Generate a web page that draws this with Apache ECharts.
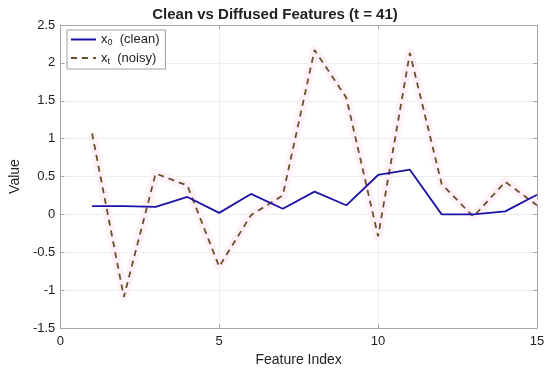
<!DOCTYPE html>
<html><head><meta charset="utf-8">
<script src="https://cdn.jsdelivr.net/npm/echarts@6/dist/echarts.min.js"></script>
<style>html,body{margin:0;padding:0;background:#fff}#c{width:550px;height:372px}</style>
</head><body><div id="c"></div>
<script>
const featureIndex = [1,2,3,4,5,6,7,8,9,10,11,12,13,14,15];
const cleanValues = [0.11,0.11,0.10,0.23,0.02,0.27,0.075,0.30,0.12,0.52,0.59,0.0,0.0,0.04,0.26];
const noisyValues = [1.07,-1.09,0.54,0.38,-0.69,-0.01,0.25,2.17,1.54,-0.29,2.13,0.40,-0.03,0.43,0.12];
const xTicks = [0,5,10,15];
const yTicks = [-1.5,-1,-0.5,0,0.5,1,1.5,2,2.5];
const titleText = 'Clean vs Diffused Features (t = 41)';

const pairs = (xs, ys) => xs.map((x,i)=>[x, ys[i]]);
const font = 'Liberation Sans, Arial, Helvetica, sans-serif';
const chart = echarts.init(document.getElementById('c'), null, {renderer:'canvas'});
const axisLineStyle = {color:'#a6a6a6', width:1};
chart.setOption({
  animation:false,
  backgroundColor:'#fff',
  title:{text:titleText, left:'center', top:2, textStyle:{fontFamily:font, fontSize:15, fontWeight:'bold', color:'#222'}},
  grid:{left:54, right:13, top:25, bottom:44},
  legend:{
    left:67, top:30, orient:'vertical', itemGap:4, itemWidth:25, itemHeight:10,
    backgroundColor:'#fff', borderColor:'#a0a0a0', borderWidth:1, borderRadius:0, padding:[3,6,3,3],
    itemStyle:{opacity:0},
    data:['clean','noisy'],
    formatter: n => n==='clean' ? '{m|x}{s|0}{m|  (clean)}' : '{m|x}{s|t}{m|  (noisy)}',
    textStyle:{fontFamily:font, color:'#222', rich:{m:{fontSize:13, fontFamily:font, color:'#222'}, s:{fontSize:9, fontFamily:font, color:'#222', verticalAlign:'bottom', padding:[7,0,0,0]}}}
  },
  xAxis:[
    {type:'value', min:0, max:15, interval:5, position:'bottom',
     name:'Feature Index', nameLocation:'middle', nameGap:22, nameTextStyle:{fontFamily:font, fontSize:14, color:'#222'},
     axisLine:{show:true, onZero:false, lineStyle:axisLineStyle}, axisTick:{show:true, inside:true, length:4, lineStyle:axisLineStyle},
     axisLabel:{fontFamily:font, fontSize:13, color:'#222', margin:7},
     splitLine:{show:true, lineStyle:{color:'#ececec', width:1}}},
    {type:'value', min:0, max:15, interval:5, position:'top',
     axisLine:{show:true, onZero:false, lineStyle:axisLineStyle}, axisTick:{show:true, inside:true, length:4, lineStyle:axisLineStyle},
     axisLabel:{show:false}, splitLine:{show:false}}
  ],
  yAxis:[
    {type:'value', min:-1.5, max:2.5, interval:0.5, position:'left',
     name:'Value', nameLocation:'middle', nameGap:33, nameTextStyle:{fontFamily:font, fontSize:14, color:'#222'},
     axisLine:{show:true, onZero:false, lineStyle:axisLineStyle}, axisTick:{show:true, inside:true, length:4, lineStyle:axisLineStyle},
     axisLabel:{fontFamily:font, fontSize:13, color:'#222', margin:5, formatter:v=>String(v)},
     splitLine:{show:true, lineStyle:{color:'#ececec', width:1}}},
    {type:'value', min:-1.5, max:2.5, interval:0.5, position:'right',
     axisLine:{show:true, onZero:false, lineStyle:axisLineStyle}, axisTick:{show:true, inside:true, length:4, lineStyle:axisLineStyle},
     axisLabel:{show:false}, splitLine:{show:false}}
  ],
  series:[
    {name:'glow', type:'line', data:pairs(featureIndex, noisyValues), symbol:'none', silent:true,
     lineStyle:{color:'#fef1f7', width:9, join:'round'}, z:1},
    {name:'clean', type:'line', data:pairs(featureIndex, cleanValues), symbol:'none',
     lineStyle:{color:'#1d12a8', width:1.8}, itemStyle:{color:'#1d12a8'}, z:3},
    {name:'noisy', type:'line', data:pairs(featureIndex, noisyValues), symbol:'none',
     lineStyle:{color:'#6b4f2a', width:1.8, type:[6,5]}, itemStyle:{color:'#6b4f2a'}, z:2}
  ]
});
</script></body></html>
